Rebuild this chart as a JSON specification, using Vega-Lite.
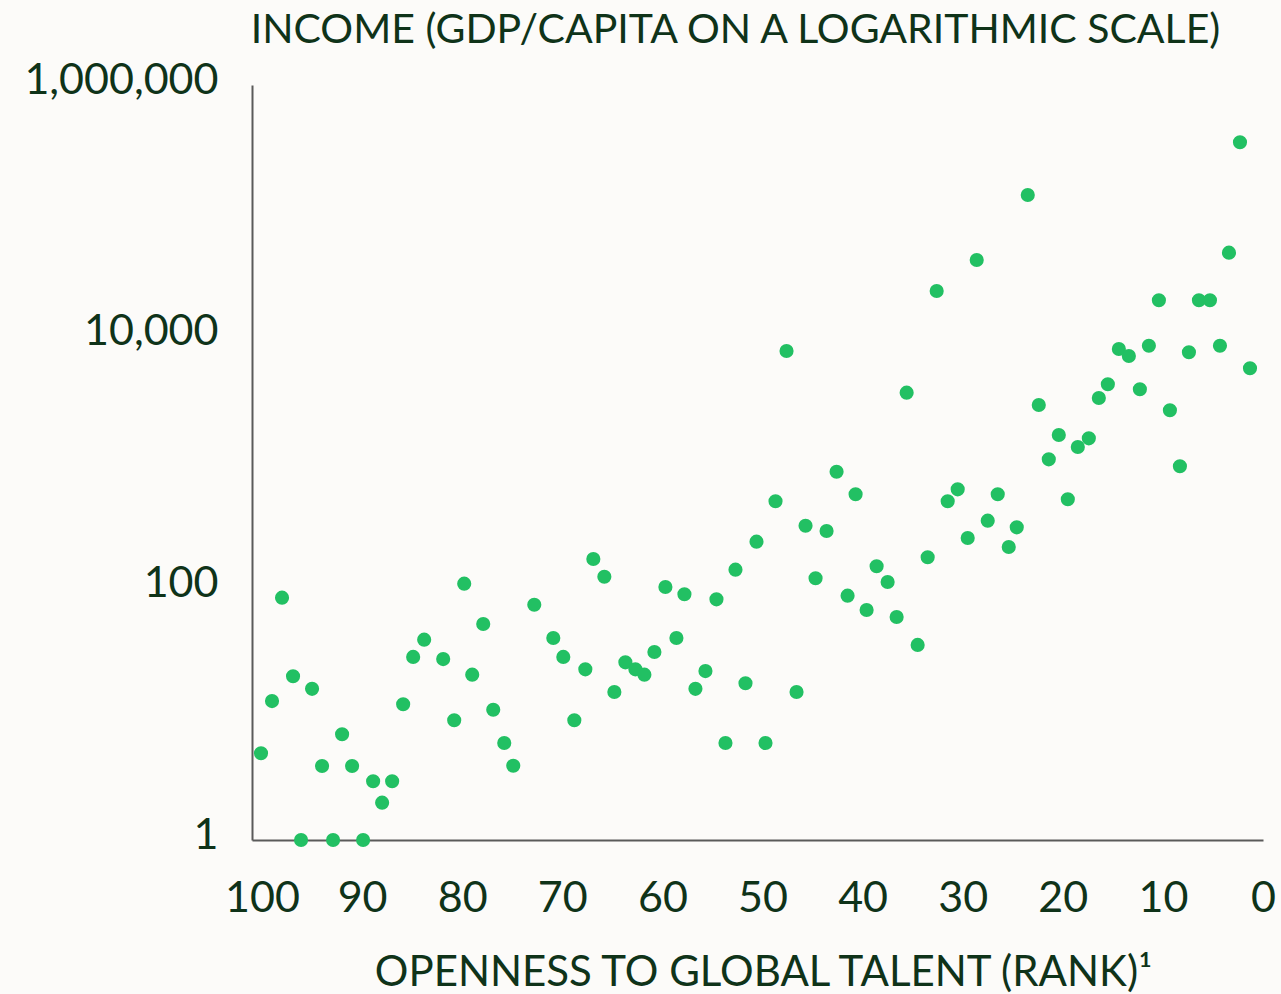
{
  "$schema": "https://vega.github.io/schema/vega-lite/v6.json",
  "width": 1011,
  "height": 755,
  "autosize": {"type": "none"},
  "padding": {"left": 252, "top": 85, "right": 18, "bottom": 154},
  "background": "#fcfbf9",
  "config": {
    "view": {"stroke": null},
    "font": "Lato",
    "axis": {
      "grid": false,
      "ticks": false,
      "tickSize": 0,
      "domainColor": "#5a5a5a",
      "domainWidth": 2,
      "labelFont": "Lato",
      "labelFontSize": 43,
      "labelColor": "#0f3319",
      "labelLimit": 0,
      "labelFlush": false,
      "labelOverlap": false,
      "titleFont": "Lato",
      "titleFontWeight": "normal",
      "titleColor": "#0f3319",
      "titleFontSize": 41,
      "titleLimit": 0
    }
  },
  "data": {
    "values": [
      {"rank": 100.1, "income": 4.89},
      {"rank": 99.0, "income": 12.7},
      {"rank": 98.0, "income": 84.3},
      {"rank": 96.9, "income": 20.0},
      {"rank": 96.1, "income": 1},
      {"rank": 95.0, "income": 15.9},
      {"rank": 94.0, "income": 3.87},
      {"rank": 92.9, "income": 1},
      {"rank": 92.0, "income": 6.92},
      {"rank": 91.0, "income": 3.87},
      {"rank": 89.9, "income": 1},
      {"rank": 88.9, "income": 2.93},
      {"rank": 88.0, "income": 1.98},
      {"rank": 87.0, "income": 2.93},
      {"rank": 85.9, "income": 12.0},
      {"rank": 84.9, "income": 28.5},
      {"rank": 83.8, "income": 39.1},
      {"rank": 81.9, "income": 27.4},
      {"rank": 80.8, "income": 8.94},
      {"rank": 79.8, "income": 108.9},
      {"rank": 79.0, "income": 20.6},
      {"rank": 77.9, "income": 52.1},
      {"rank": 76.9, "income": 10.85},
      {"rank": 75.8, "income": 5.9},
      {"rank": 74.9, "income": 3.89},
      {"rank": 72.8, "income": 74.1},
      {"rank": 70.9, "income": 40.3},
      {"rank": 69.9, "income": 28.5},
      {"rank": 68.8, "income": 8.94},
      {"rank": 67.7, "income": 22.7},
      {"rank": 66.9, "income": 171},
      {"rank": 65.8, "income": 123.7},
      {"rank": 64.8, "income": 15.0},
      {"rank": 63.7, "income": 25.8},
      {"rank": 62.7, "income": 22.7},
      {"rank": 61.8, "income": 20.6},
      {"rank": 60.8, "income": 31.2},
      {"rank": 59.7, "income": 102.5},
      {"rank": 58.6, "income": 40.3},
      {"rank": 57.8, "income": 89.7},
      {"rank": 56.7, "income": 15.9},
      {"rank": 55.7, "income": 22.0},
      {"rank": 54.6, "income": 81.8},
      {"rank": 53.7, "income": 5.9},
      {"rank": 52.7, "income": 140.7},
      {"rank": 51.7, "income": 17.6},
      {"rank": 50.6, "income": 234.8},
      {"rank": 49.7, "income": 5.9},
      {"rank": 48.7, "income": 491.7},
      {"rank": 47.6, "income": 7690},
      {"rank": 46.6, "income": 15.0},
      {"rank": 45.7, "income": 314.6},
      {"rank": 44.7, "income": 120.2},
      {"rank": 43.6, "income": 285.6},
      {"rank": 42.6, "income": 845},
      {"rank": 41.5, "income": 87.4},
      {"rank": 40.7, "income": 559},
      {"rank": 39.6, "income": 67.3},
      {"rank": 38.6, "income": 149.7},
      {"rank": 37.5, "income": 112.3},
      {"rank": 36.6, "income": 59.2},
      {"rank": 35.6, "income": 3589},
      {"rank": 34.5, "income": 35.5},
      {"rank": 33.5, "income": 176.5},
      {"rank": 32.6, "income": 23070},
      {"rank": 31.5, "income": 491.7},
      {"rank": 30.5, "income": 612},
      {"rank": 29.5, "income": 251},
      {"rank": 28.6, "income": 40660},
      {"rank": 27.5, "income": 345},
      {"rank": 26.5, "income": 559},
      {"rank": 25.4, "income": 213},
      {"rank": 24.6, "income": 305.5},
      {"rank": 23.5, "income": 133600},
      {"rank": 22.4, "income": 2865},
      {"rank": 21.4, "income": 1060},
      {"rank": 20.4, "income": 1654},
      {"rank": 19.5, "income": 510},
      {"rank": 18.5, "income": 1328},
      {"rank": 17.4, "income": 1557},
      {"rank": 16.4, "income": 3256},
      {"rank": 15.5, "income": 4183},
      {"rank": 14.4, "income": 7980},
      {"rank": 13.4, "income": 7023},
      {"rank": 12.3, "income": 3817},
      {"rank": 11.4, "income": 8476},
      {"rank": 10.4, "income": 19460},
      {"rank": 9.3, "income": 2600},
      {"rank": 8.3, "income": 933},
      {"rank": 7.4, "income": 7516},
      {"rank": 6.4, "income": 19460},
      {"rank": 5.3, "income": 19460},
      {"rank": 4.3, "income": 8476},
      {"rank": 3.4, "income": 46500},
      {"rank": 2.3, "income": 350500},
      {"rank": 1.3, "income": 5607}
    ]
  },
  "mark": {"type": "circle", "size": 200, "color": "#22c063", "opacity": 1},
  "encoding": {
    "x": {
      "field": "rank",
      "type": "quantitative",
      "scale": {"domain": [101, 0], "nice": false, "zero": false},
      "axis": {
        "values": [100, 90, 80, 70, 60, 50, 40, 30, 20, 10, 0],
        "labelPadding": 58,
        "labelBaseline": "middle",
        "title": "OPENNESS TO GLOBAL TALENT (RANK)¹",
        "titleFontSize": 42,
        "titleX": 511,
        "titleY": 132,
        "titleBaseline": "middle",
        "titleAlign": "center"
      }
    },
    "y": {
      "field": "income",
      "type": "quantitative",
      "scale": {"type": "log", "domain": [1, 1000000], "nice": false},
      "axis": {
        "values": [1, 100, 10000, 1000000],
        "format": ",",
        "labelPadding": 34,
        "labelOffset": -5,
        "title": "INCOME (GDP/CAPITA ON A LOGARITHMIC SCALE)",
        "titleAngle": 0,
        "titleAlign": "center",
        "titleBaseline": "middle",
        "titleX": 483,
        "titleY": -55
      }
    }
  }
}
